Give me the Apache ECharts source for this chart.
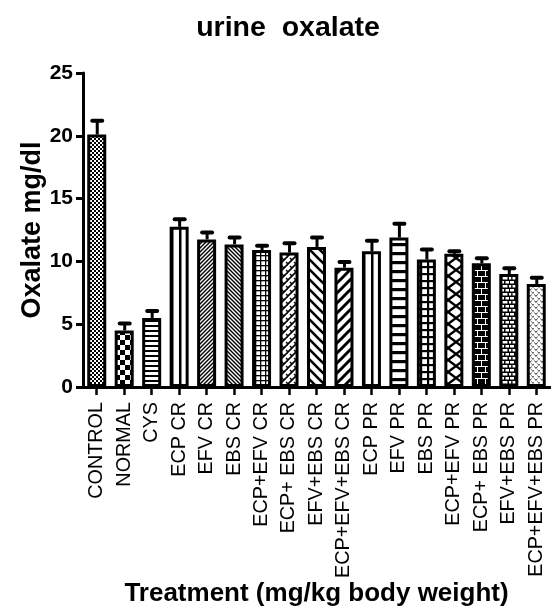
<!DOCTYPE html>
<html>
<head>
<meta charset="utf-8">
<script src="https://cdn.jsdelivr.net/npm/echarts@6/dist/echarts.min.js"></script>
<style>html,body{margin:0;padding:0;background:#fff;}#c{width:551px;height:606px;}</style>
</head>
<body>
<div id="c"></div>
<script>
var categories = ['CONTROL','NORMAL','CYS','ECP CR','EFV CR','EBS CR','ECP+EFV CR','ECP+ EBS CR','EFV+EBS CR','ECP+EFV+EBS CR','ECP PR','EFV PR','EBS PR','ECP+EFV PR','ECP+ EBS PR','EFV+EBS PR','ECP+EFV+EBS PR'];
var means = [20.1, 4.5, 5.5, 12.75, 11.75, 11.35, 10.9, 10.7, 11.15, 9.5, 10.8, 11.9, 10.15, 10.6, 9.85, 9.0, 8.2];
var errors = [1.1, 0.55, 0.55, 0.6, 0.55, 0.55, 0.35, 0.75, 0.75, 0.45, 0.85, 1.1, 0.8, 0.2, 0.4, 0.45, 0.5];
var yTicks = [0, 5, 10, 15, 20, 25];
var patternNames = ['checkFine','checkBig','hlines','vlines','diagFwd','diagBack','grid','weave','diagBackWide','diagFwdWide','vlines','hlinesThick','gridThick','diamond','brickDark','brickSmall','vdots'];

var FONT = 'Liberation Sans, Arial, Helvetica, sans-serif';

function mk(w, h, draw) {
  var c = document.createElement('canvas');
  c.width = w; c.height = h;
  var g = c.getContext('2d');
  g.fillStyle = '#fff'; g.fillRect(0, 0, w, h);
  g.fillStyle = '#000'; g.strokeStyle = '#000';
  draw(g, w, h);
  return c;
}
function line(g, x1, y1, x2, y2, lw) {
  g.lineWidth = lw; g.beginPath(); g.moveTo(x1, y1); g.lineTo(x2, y2); g.stroke();
}
var makers = {
  checkFine: function () { return mk(4, 4, function (g) { g.fillRect(0, 0, 2, 2); g.fillRect(2, 2, 2, 2); }); },
  checkBig: function () { return mk(10, 10, function (g) { g.fillRect(0, 0, 5, 5); g.fillRect(5, 5, 5, 5); }); },
  hlines: function () { return mk(4, 5, function (g) { g.fillRect(0, 0, 4, 2); }); },
  vlines: function () { return mk(8, 4, function (g) { g.fillRect(3, 0, 2.5, 4); }); },
  diagFwd: function () { return mk(4, 4, function (g) { line(g, -1, 5, 5, -1, 1.4); line(g, -1, 1, 1, -1, 1.4); line(g, 3, 5, 5, 3, 1.4); }); },
  diagBack: function () { return mk(4, 4, function (g) { line(g, -1, -1, 5, 5, 1.4); line(g, -1, 3, 1, 5, 1.4); line(g, 3, -1, 5, 1, 1.4); }); },
  grid: function () { return mk(5, 5, function (g) { g.fillRect(0, 0, 5, 1.3); g.fillRect(0, 0, 1.3, 5); }); },
  weave: function () { return mk(8, 8, function (g) { line(g, -2, 10, 10, -2, 1.6); line(g, -2, 2, 2, -2, 1.6); line(g, 6, 10, 10, 6, 1.6); line(g, 2, 2, 4, 4, 1.4); line(g, 6, 6, 8, 8, 1.4); }); },
  diagBackWide: function () { return mk(10, 10, function (g) { line(g, -2, -2, 12, 12, 2.6); line(g, -2, 8, 2, 12, 2.6); line(g, 8, -2, 12, 2, 2.6); }); },
  diagFwdWide: function () { return mk(10, 10, function (g) { line(g, -2, 12, 12, -2, 3); line(g, -2, 2, 2, -2, 3); line(g, 8, 12, 12, 8, 3); }); },
  hlinesThick: function () { return mk(4, 9, function (g) { g.fillRect(0, 0, 4, 3.2); }); },
  gridThick: function () { return mk(7, 7, function (g) { g.fillRect(0, 0, 7, 2.2); g.fillRect(0, 0, 2.2, 7); }); },
  diamond: function () { return mk(16, 12, function (g) { line(g, 0, 0, 16, 12, 2.4); line(g, 16, 0, 0, 12, 2.4); line(g, -16, 0, 0, 12, 2.4); line(g, 32, 0, 16, 12, 2.4); line(g, 0, -12, 16, 0, 2.4); line(g, 16, 12, 32, 24, 2.4); }); },
  brickDark: function () { return mk(8, 12, function (g) { g.fillRect(0, 0, 8, 12); g.fillStyle = '#fff'; g.fillRect(0, 0, 8, 1); g.fillRect(0, 6, 8, 1); g.fillRect(1, 0, 1, 6); g.fillRect(5, 6, 1, 6); }); },
  brickSmall: function () { return mk(10, 8, function (g) { g.fillRect(0, 0, 10, 8); g.fillStyle = '#fff'; g.fillRect(0, 1, 4, 2.5); g.fillRect(5.5, 1, 3.5, 2.5); g.fillRect(2.5, 5, 5, 2.5); g.fillRect(9, 5, 1, 2.5); g.fillRect(0, 5, 1.2, 2.5); }); },
  vdots: function () { return mk(6, 6, function (g) { g.strokeStyle = '#333'; line(g, 0.5, 0.5, 2, 2.5, 1); line(g, 2, 2.5, 3.5, 0.5, 1); g.strokeStyle = '#444'; line(g, 3.5, 3.5, 5, 5.5, 1); line(g, 5, 5.5, 6.5, 3.5, 1); }); }
};

var barData = means.map(function (v, i) {
  return {
    value: v,
    itemStyle: { color: { image: makers[patternNames[i]](), repeat: 'repeat' } }
  };
});
var errData = means.map(function (v, i) { return [i, v, v + errors[i]]; });

var chart = echarts.init(document.getElementById('c'), null, { renderer: 'canvas' });
chart.setOption({
  animation: false,
  backgroundColor: '#fff',
  title: {
    text: 'urine  oxalate',
    left: 288, top: 14, padding: 0, textAlign: 'center',
    textStyle: { fontFamily: FONT, fontSize: 28.5, fontWeight: 'bold', color: '#000' }
  },
  grid: { left: 83, right: 1, top: 73, bottom: 219, outerBoundsMode: 'none', containLabel: false },
  xAxis: {
    type: 'category',
    data: categories,
    name: 'Treatment (mg/kg body weight)',
    nameLocation: 'middle',
    nameGap: 194,
    nameMoveOverlap: false,
    nameTextStyle: { fontFamily: FONT, fontSize: 26, fontWeight: 'bold', color: '#000', verticalAlign: 'top' },
    axisLine: { lineStyle: { color: '#000', width: 3 } },
    axisTick: { show: true, alignWithLabel: true, length: 8, lineStyle: { color: '#000', width: 2.5 } },
    axisLabel: { interval: 0, rotate: 90, margin: 15, fontFamily: FONT, fontSize: 19.8, color: '#000' }
  },
  yAxis: {
    type: 'value',
    min: yTicks[0], max: yTicks[yTicks.length - 1], interval: yTicks[1] - yTicks[0],
    name: 'Oxalate mg/dl',
    nameLocation: 'middle',
    nameGap: 37,
    nameMoveOverlap: false,
    nameTextStyle: { fontFamily: FONT, fontSize: 27, fontWeight: 'bold', color: '#000' },
    axisLine: { show: true, lineStyle: { color: '#000', width: 3 } },
    axisTick: { show: true, length: 7, lineStyle: { color: '#000', width: 3 } },
    axisLabel: { margin: 10, fontFamily: FONT, fontSize: 21, fontWeight: 'bold', color: '#000' },
    splitLine: { show: false }
  },
  series: [
    {
      type: 'bar',
      data: barData,
      barWidth: 19,
      itemStyle: { borderColor: '#000', borderWidth: 3 },
      z: 2
    },
    {
      type: 'custom',
      data: errData,
      z: 3,
      renderItem: function (params, api) {
        var x = api.value(0);
        var p0 = api.coord([x, api.value(1)]);
        var p1 = api.coord([x, api.value(2)]);
        return {
          type: 'group',
          children: [
            { type: 'line', shape: { x1: p0[0] + 0.5, y1: p0[1], x2: p0[0] + 0.5, y2: p1[1] }, style: { stroke: '#000', lineWidth: 3 } },
            { type: 'line', shape: { x1: p0[0] - 4.5, y1: p1[1], x2: p0[0] + 5.5, y2: p1[1] }, style: { stroke: '#000', lineWidth: 4, lineCap: 'round' } }
          ]
        };
      }
    }
  ]
});
</script>
</body>
</html>
